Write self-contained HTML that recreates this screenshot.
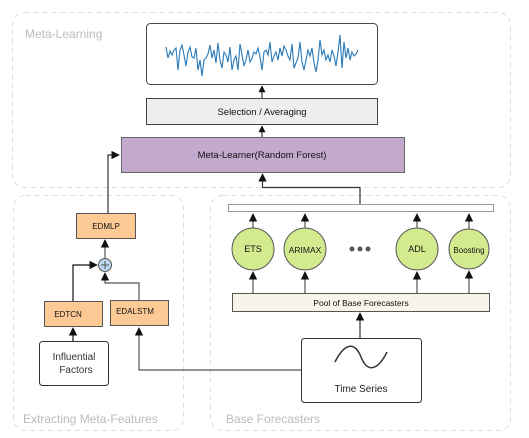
<!DOCTYPE html>
<html><head><meta charset="utf-8"><style>
html,body{margin:0;padding:0;background:#fff;}
svg{display:block;font-family:"Liberation Sans",sans-serif;}
</style></head><body>
<svg width="529" height="438" viewBox="0 0 529 438" xmlns="http://www.w3.org/2000/svg">
<defs>
<marker id="a" viewBox="0 0 10 10" refX="9" refY="5" markerWidth="7" markerHeight="7" orient="auto-start-reverse"><path d="M0,0 L10,5 L0,10 z" fill="#111"/></marker>
</defs>
<!-- containers -->
<rect x="12.5" y="12.5" width="498" height="175" rx="12" fill="none" stroke="#ddd" stroke-dasharray="5,4"/>
<rect x="13.5" y="195.5" width="170" height="235" rx="12" fill="none" stroke="#ddd" stroke-dasharray="5,4"/>
<rect x="210.5" y="195.5" width="300" height="235" rx="12" fill="none" stroke="#ddd" stroke-dasharray="5,4"/>
<text x="25" y="38" font-size="12" fill="#bbb">Meta-Learning</text>
<text x="23" y="423" font-size="12" fill="#bbb">Extracting Meta-Features</text>
<text x="226" y="423" font-size="12" fill="#bbb">Base Forecasters</text>

<!-- chart -->
<rect x="146.5" y="23.5" width="231" height="61" rx="4" fill="#fff" stroke="#445"/>
<polyline fill="none" stroke="#2a7ab8" stroke-width="1.1" points="166,47 168,58 170,51 172,55 174,50 176,48 178,70 180,50 182,45 184,55 186,66 188,52 190,47 192,57 194,58 196,48 198,70 200,60 202,76 204,60 206,58 208,54 210,45 212,58 214,50 216,63 218,43 220,60 222,68 224,52 226,55 228,62 230,47 232,70 234,60 236,56 238,70 240,44 242,55 244,66 246,60 248,50 250,62 252,58 254,52 256,54 258,48 260,57 262,70 264,52 266,50 268,55 270,42 272,62 274,56 276,52 278,60 280,48 282,56 284,46 286,50 288,56 290,60 292,44 294,68 296,63 298,58 300,42 302,62 304,70 306,60 308,50 310,56 312,48 314,63 316,72 318,60 320,40 322,55 324,50 326,60 328,55 330,62 332,50 334,56 336,66 338,52 340,35 342,68 344,42 346,58 348,48 350,60 352,52 354,56 356,54 358,50"/>

<rect x="146.5" y="98.5" width="231" height="26" fill="#eee" stroke="#444"/>
<text x="262" y="115" font-size="9.5" text-anchor="middle" fill="#111">Selection / Averaging</text>
<line x1="262" y1="98" x2="262" y2="86" stroke="#111" marker-end="url(#a)"/>

<rect x="121.5" y="137.5" width="283" height="35" fill="#c3a9cc" stroke="#666"/>
<text x="262" y="158" font-size="9.5" text-anchor="middle" fill="#111">Meta-Learner(Random Forest)</text>
<line x1="262" y1="137" x2="262" y2="126" stroke="#111" marker-end="url(#a)"/>

<!-- bar & connectors -->
<rect x="228.5" y="204.5" width="265" height="7" fill="#fff" stroke="#999"/>
<polyline points="360,204 360,187.5 262.5,187.5 262.5,174" fill="none" stroke="#333" stroke-width="1.2" marker-end="url(#a)"/>
<polyline points="108,213 108,155 119,155" fill="none" stroke="#333" stroke-width="1.2" marker-end="url(#a)"/>

<!-- circles -->
<g stroke="#555" fill="#d3ea8f">
<circle cx="253" cy="249" r="21"/>
<circle cx="305" cy="249" r="21"/>
<circle cx="417" cy="249" r="21"/>
<circle cx="469" cy="249" r="20"/>
</g>
<g font-size="9" text-anchor="middle" fill="#111">
<text x="253" y="252">ETS</text>
<text x="305" y="253" font-size="8.5">ARIMAX</text>
<text x="417" y="252">ADL</text>
<text x="469" y="253" font-size="8">Boosting</text>
</g>
<g fill="#555"><circle cx="352" cy="249" r="2.5"/><circle cx="360" cy="249" r="2.5"/><circle cx="368" cy="249" r="2.5"/></g>
<g stroke="#555" stroke-width="1.2" marker-end="url(#a)">
<line x1="253" y1="228" x2="253" y2="214"/><line x1="305" y1="228" x2="305" y2="214"/>
<line x1="417" y1="228" x2="417" y2="214"/><line x1="469" y1="229" x2="469" y2="214"/>
<line x1="253" y1="293" x2="253" y2="272"/><line x1="305" y1="293" x2="305" y2="272"/>
<line x1="417" y1="293" x2="417" y2="272"/><line x1="469" y1="293" x2="469" y2="271"/>
</g>

<rect x="232.5" y="293.5" width="257" height="18" fill="#f7f4ea" stroke="#555"/>
<text x="361" y="306" font-size="8.5" text-anchor="middle" fill="#111">Pool of Base Forecasters</text>

<rect x="301.5" y="338.5" width="120" height="64" rx="3" fill="#fff" stroke="#333"/>
<path d="M335,362 C345,342 355,342 361,357 C367,372 377,372 387,352" fill="none" stroke="#333" stroke-width="1.5"/>
<text x="361" y="392" font-size="10" text-anchor="middle" fill="#222">Time Series</text>
<line x1="360" y1="338" x2="360" y2="313" stroke="#333" stroke-width="1.2" marker-end="url(#a)"/>
<polyline points="301,370 139,370 139,328" fill="none" stroke="#555" stroke-width="1.2" marker-end="url(#a)"/>

<!-- meta features -->
<rect x="76.5" y="213.5" width="59" height="25" fill="#fdca95" stroke="#555"/>
<text x="106" y="229" font-size="8" text-anchor="middle" fill="#111">EDMLP</text>
<rect x="44.5" y="301.5" width="58" height="25" fill="#fdca95" stroke="#555"/>
<text x="68" y="317" font-size="8" text-anchor="middle" fill="#111">EDTCN</text>
<rect x="110.5" y="300.5" width="58" height="25" fill="#fdca95" stroke="#555"/>
<text x="135" y="314" font-size="8" text-anchor="middle" fill="#111">EDALSTM</text>
<circle cx="105" cy="265" r="6.5" fill="#bcd6ee" stroke="#555"/>
<path d="M101,265 H109 M105,261 V269" stroke="#555"/>
<line x1="105" y1="258" x2="105" y2="240" stroke="#555" stroke-width="1.2" marker-end="url(#a)"/>
<polyline points="73,301 73,265 97,265" fill="none" stroke="#111" stroke-width="1.2" marker-end="url(#a)"/>
<polyline points="139,300 139,283 105,283 105,273" fill="none" stroke="#555" stroke-width="1.2" marker-end="url(#a)"/>
<rect x="39.5" y="341.5" width="69" height="44" rx="3" fill="#fff" stroke="#333"/>
<text x="74" y="360" font-size="10" text-anchor="middle" fill="#333">Influential</text>
<text x="76" y="373" font-size="10" text-anchor="middle" fill="#333">Factors</text>
<line x1="73" y1="341" x2="73" y2="328" stroke="#111" stroke-width="1.2" marker-end="url(#a)"/>
</svg>
</body></html>
